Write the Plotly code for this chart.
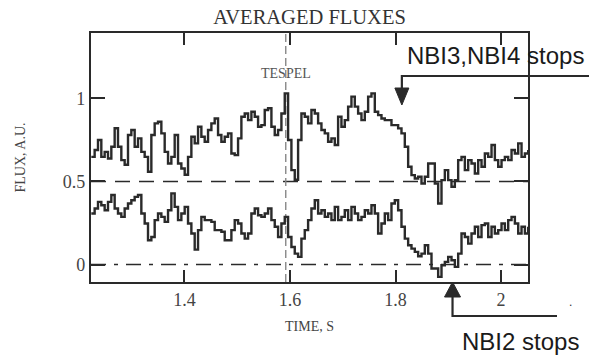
import numpy as np
import plotly.graph_objects as go

# ---------------- data ----------------
t_start, t_end = 1.2236, 2.0514
upper_flux = [
    0.648, 0.689, 0.749, 0.648, 0.678, 0.638, 0.709, 0.820, 0.709, 0.628,
    0.600, 0.779, 0.809, 0.709, 0.759, 0.678, 0.648, 0.558, 0.779, 0.849,
    0.859, 0.789, 0.678, 0.608, 0.648, 0.779, 0.608,
    0.578, 0.540, 0.648, 0.769, 0.729, 0.829, 0.769, 0.739, 0.809, 0.849,
    0.879, 0.779, 0.739, 0.769, 0.789, 0.668, 0.658, 0.759, 0.889, 0.909,
    0.869, 0.919, 0.889, 0.829, 0.839, 0.930, 0.940,
    0.829, 0.779, 0.809, 0.909, 1.030, 0.749, 0.568, 0.510, 0.749, 0.909,
    0.889, 0.849, 0.930, 0.909, 0.849, 0.809, 0.789, 0.739, 0.759, 0.719,
    0.889, 0.829, 0.869, 0.950, 1.010, 0.950, 0.909,
    0.869, 0.919, 1.010, 1.030, 0.919, 0.899, 0.879, 0.869, 0.869, 0.839,
    0.839, 0.819, 0.789, 0.709, 0.588, 0.538, 0.518, 0.528, 0.488, 0.528,
    0.608, 0.608, 0.488, 0.367, 0.508, 0.568, 0.508,
    0.468, 0.508, 0.628, 0.648, 0.568, 0.628, 0.608, 0.548, 0.628, 0.588,
    0.668, 0.648, 0.719, 0.628, 0.588, 0.628, 0.648, 0.628, 0.689, 0.668,
    0.729, 0.648, 0.668, 0.689,
]
lower_flux = [
    0.307, 0.337, 0.377, 0.357, 0.327, 0.377, 0.418, 0.337, 0.307, 0.287,
    0.337, 0.367, 0.387, 0.407, 0.418, 0.307, 0.247, 0.146, 0.166, 0.267,
    0.307, 0.287, 0.257, 0.327, 0.428, 0.347, 0.267,
    0.307, 0.347, 0.247, 0.187, 0.090, 0.207, 0.287, 0.267, 0.267, 0.257,
    0.207, 0.207, 0.197, 0.146, 0.146, 0.207, 0.267, 0.247, 0.187, 0.156,
    0.187, 0.307, 0.337, 0.297, 0.287, 0.307, 0.337,
    0.267, 0.227, 0.166, 0.247, 0.287, 0.166, 0.106, 0.066, 0.046, 0.156,
    0.207, 0.267, 0.337, 0.387, 0.307, 0.327, 0.287, 0.307, 0.267, 0.347,
    0.267, 0.287, 0.327, 0.267, 0.347, 0.307, 0.267,
    0.287, 0.327, 0.307, 0.357, 0.307, 0.187, 0.247, 0.307, 0.267, 0.367,
    0.387, 0.327, 0.227, 0.156, 0.116, 0.096, 0.076, 0.050, 0.066, 0.116,
    0.066, -0.024, -0.024, -0.074, -0.004, 0.016, 0.046,
    0.026, -0.014, 0.066, 0.187, 0.166, 0.126, 0.187, 0.227, 0.166, 0.237,
    0.247, 0.166, 0.227, 0.187, 0.207, 0.247, 0.207, 0.267, 0.287, 0.247,
    0.187, 0.227, 0.187, 0.227,
]
time_s = np.linspace(t_start, t_end, len(upper_flux))

x_ticks = [1.4, 1.6, 1.8, 2.0]
x_tick_text = ["1.4", "1.6", "1.8", "2"]
y_ticks = [0, 0.5, 1]
y_tick_text = ["0", "0.5", "1"]
ref_levels = [0.5, 0.0]
tespel_time = 1.592
nbi34_stop = 1.812
nbi2_stop = 1.908

x_range = [1.223, 2.051]
y_range = [-0.105, 1.393]

# ---------------- figure ----------------
W, H = 594, 355
ML, MR, MT, MB = 91, 66, 33, 73
PW, PH = W - ML - MR, H - MT - MB

def px(xp):
    return (xp - ML) / PW

def py(yp):
    return (H - MB - yp) / PH

def tx(t):
    return (t - x_range[0]) / (x_range[1] - x_range[0])

ink = "#2a2a2a"
serif = "Liberation Serif, Times New Roman, serif"
sans = "Liberation Sans, Arial, sans-serif"

fig = go.Figure()
for ys in (upper_flux, lower_flux):
    fig.add_trace(go.Scatter(x=time_s, y=ys, mode="lines", line_shape="hv",
                             line=dict(color=ink, width=2.4), showlegend=False,
                             hoverinfo="skip"))

shapes = []
shapes.append(dict(type="line", xref="paper", yref="y", x0=0, x1=1,
                   y0=ref_levels[0], y1=ref_levels[0],
                   line=dict(color=ink, width=1.6, dash="15px,9px"), layer="below"))
shapes.append(dict(type="line", xref="paper", yref="y", x0=0, x1=1,
                   y0=ref_levels[1], y1=ref_levels[1],
                   line=dict(color=ink, width=1.6, dash="15px,8px,4px,8px"), layer="below"))
shapes.append(dict(type="line", xref="x", yref="paper", x0=tespel_time, x1=tespel_time,
                   y0=0, y1=1, line=dict(color="#888888", width=1.4, dash="8px,4px"),
                   layer="below"))

# NBI3,NBI4 arrow
xa = tx(nbi34_stop)
hw = 7 / PW
shapes.append(dict(type="path", xref="paper", yref="paper",
                   path=f"M {px(589)},{py(76)} L {xa},{py(76)} L {xa},{py(90)}",
                   line=dict(color=ink, width=2.2)))
shapes.append(dict(type="path", xref="paper", yref="paper",
                   path=f"M {xa-hw},{py(88)} L {xa+hw},{py(88)} L {xa},{py(105)} Z",
                   fillcolor=ink, line=dict(color=ink, width=1)))
# NBI2 arrow
xb = tx(nbi2_stop)
hw2 = 8 / PW
shapes.append(dict(type="path", xref="paper", yref="paper",
                   path=f"M {px(557)},{py(316)} L {xb},{py(316)} L {xb},{py(295)}",
                   line=dict(color=ink, width=2.2)))
shapes.append(dict(type="path", xref="paper", yref="paper",
                   path=f"M {xb-hw2},{py(297)} L {xb+hw2},{py(297)} L {xb},{py(282)} Z",
                   fillcolor=ink, line=dict(color=ink, width=1)))

annotations = [
    dict(text="TESPEL", x=tespel_time, xref="x", y=py(73), yref="paper",
         xanchor="center", yanchor="middle",
         showarrow=False, font=dict(family=serif, size=14, color="#555555")),
    dict(text="NBI3,NBI4 stops", x=px(495), xref="paper", y=py(55), yref="paper",
         xanchor="center", yanchor="middle",
         showarrow=False, font=dict(family=sans, size=24, color="#1a1a1a")),
    dict(text="NBI2 stops", x=px(520), xref="paper", y=py(341), yref="paper",
         xanchor="center", yanchor="middle",
         showarrow=False, font=dict(family=sans, size=24, color="#1a1a1a")),
    dict(text=".", x=px(570), xref="paper", y=py(302), yref="paper",
         xanchor="center", yanchor="middle",
         showarrow=False, font=dict(family=sans, size=12, color="#333333")),
]

axis_common = dict(showgrid=False, zeroline=False, showline=True, linecolor=ink,
                   linewidth=2.2, mirror="ticks", ticks="inside", tickcolor=ink,
                   tickwidth=2, tickfont=dict(family=serif, size=18, color="#444444"))

fig.update_layout(
    width=W, height=H, margin=dict(l=ML, r=MR, t=MT, b=MB),
    paper_bgcolor="white", plot_bgcolor="white",
    title=dict(text="AVERAGED FLUXES", x=0.5, xref="paper", xanchor="center",
               y=1 - 16.5 / H, yanchor="middle",
               font=dict(family=serif, size=20.5, color="#333333")),
    xaxis=dict(range=x_range, tickvals=x_ticks, ticktext=x_tick_text, ticklen=12,
               title=dict(text="TIME, S", font=dict(family=serif, size=14, color="#444444"),
                          standoff=12),
               **axis_common),
    yaxis=dict(range=y_range, tickvals=y_ticks, ticktext=y_tick_text, ticklen=14,
               title=dict(text="FLUX, A.U.", font=dict(family=serif, size=14, color="#444444"),
                          standoff=34),
               **axis_common),
    shapes=shapes, annotations=annotations,
)

fig.write_html("out.html", config={"displayModeBar": False},
               post_script="document.body.style.margin='0';document.body.style.padding='0';")
